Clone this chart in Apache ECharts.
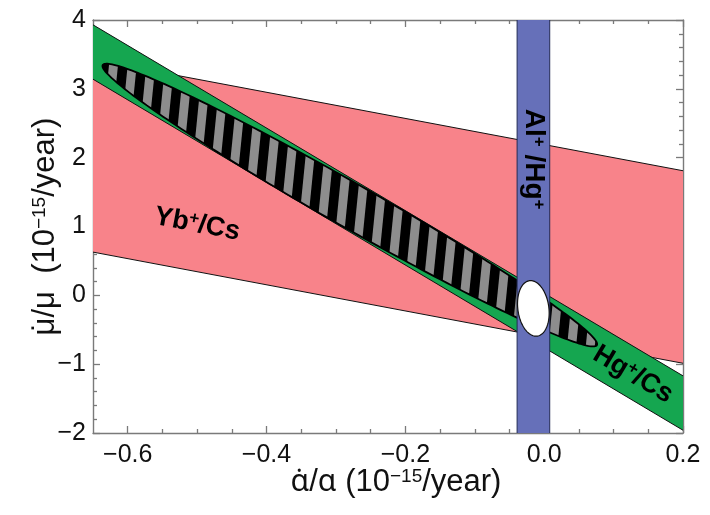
<!DOCTYPE html>
<html><head><meta charset="utf-8">
<script src="https://cdn.jsdelivr.net/npm/echarts@6/dist/echarts.min.js"></script>
<style>html,body{margin:0;padding:0;background:#fff}#c{width:710px;height:515px}</style>
</head><body><div id="c"></div>
<script>
// ---------------- data ----------------
const xRange = [-0.65, 0.2];
const yRange = [-2, 4];
const xTickValues = [-0.6, -0.4, -0.2, 0.0, 0.2];
const yTickValues = [-2, -1, 0, 1, 2, 3, 4];
// constraint bands: value of upper / lower edge at x = bandEndsX[0], bandEndsX[1]
const bandEndsX = [-0.65, 0.2];
const ybCsUpper = [3.425, 1.81];
const ybCsLower = [0.628, -0.987];
const hgCsUpper = [3.93, -1.17];
const hgCsLower = [3.14, -1.96];
// Al+/Hg+ vertical band
const alHgX = [-0.039, 0.008];
const alHgY = [-2, 4];
// combined (Yb+/Cs & Hg+/Cs) ellipse: centre and two conjugate half-axes (data units)
const combinedCenter = [-0.280, 1.311];
const combinedHalfA = [0.356, -2.035];
const combinedHalfB = [0.0157, 0.278];
// combined all-constraints ellipse (white)
const allCenter = [-0.0156, -0.190];
const allHalfA = [-0.0056, 0.4026];
const allHalfB = [0.0221, 0.0314];
// label anchors (data units)
const ybLabelAt = [-0.500, 1.03];
const hgLabelAt = [0.128, -1.15];
const alLabelAt = [-0.0155, 1.98];

// ---------------- styling ----------------
const FONT = '"Liberation Sans", Arial, Helvetica, sans-serif';
const MARKFONT = '"Noto Sans", "DejaVu Sans", sans-serif';
const frameColor = '#7a7a7a';
const pink = '#f8838a';
const green = '#15a650';
const blue = '#6670b9';
const stripeGray = '#8d8d8d';

function fmtNum(v, d) {
  const s = Math.abs(v).toFixed(d);
  return (v < -1e-9 ? '\u2212' : '') + s;
}

function clipHalf(poly, f) {
  const out = [];
  const n = poly.length;
  for (let i = 0; i < n; i++) {
    const a = poly[i], b = poly[(i + 1) % n];
    const fa = f(a), fb = f(b);
    if (fa >= 0) out.push(a);
    if ((fa >= 0) !== (fb >= 0)) {
      const t = fa / (fa - fb);
      out.push([a[0] + t * (b[0] - a[0]), a[1] + t * (b[1] - a[1])]);
    }
  }
  return out;
}

function ellipsePoints(api, n) {
  const c = [api.value(0), api.value(1)];
  const A = [api.value(2), api.value(3)];
  const B = [api.value(4), api.value(5)];
  const pts = [];
  for (let i = 0; i < n; i++) {
    const t = 2 * Math.PI * i / n;
    pts.push(api.coord([
      c[0] + Math.cos(t) * A[0] + Math.sin(t) * B[0],
      c[1] + Math.cos(t) * A[1] + Math.sin(t) * B[1]
    ]));
  }
  return pts;
}

function bandSeries(name, upper, lower, color, z) {
  return {
    type: 'custom', name: name, z: z, silent: true,
    data: [[bandEndsX[0], upper[0], lower[0], bandEndsX[1], upper[1], lower[1]]],
    encode: { x: [0, 3], y: [1, 2, 4, 5] },
    renderItem: function (params, api) {
      const ul = api.coord([api.value(0), api.value(1)]);
      const ll = api.coord([api.value(0), api.value(2)]);
      const ur = api.coord([api.value(3), api.value(4)]);
      const lr = api.coord([api.value(3), api.value(5)]);
      return {
        type: 'group',
        children: [
          { type: 'polygon', shape: { points: [ul, ur, lr, ll] }, style: { fill: color } },
          { type: 'polyline', shape: { points: [ul, ur] }, style: { stroke: '#111', lineWidth: 1, fill: null } },
          { type: 'polyline', shape: { points: [ll, lr] }, style: { stroke: '#111', lineWidth: 1, fill: null } }
        ]
      };
    }
  };
}

const labelRich = function (size) {
  return {
    m: { fontSize: size, fontWeight: 'bold', fontFamily: FONT, color: '#000' },
    s: { fontSize: Math.round(size * 0.62), fontWeight: 'bold', fontFamily: FONT, color: '#000', verticalAlign: 'top' }
  };
};

function bandLabelSeries(text, at, upper, lower, size, z) {
  return {
    type: 'custom', z: z, silent: true,
    data: [[at[0], at[1], bandEndsX[0], (upper[0] + lower[0]) / 2, bandEndsX[1], (upper[1] + lower[1]) / 2]],
    encode: { x: [0], y: [1] },
    renderItem: function (params, api) {
      const p = api.coord([api.value(0), api.value(1)]);
      const a = api.coord([api.value(2), api.value(3)]);
      const b = api.coord([api.value(4), api.value(5)]);
      const ang = -Math.atan2(b[1] - a[1], b[0] - a[0]);
      return {
        type: 'text', x: p[0], y: p[1], rotation: ang,
        style: { text: text, rich: labelRich(size), align: 'center', verticalAlign: 'middle', fill: '#000' }
      };
    }
  };
}

function axisCommon() {
  return {
    axisLine: { show: true, onZero: false, lineStyle: { color: frameColor, width: 1.4 } },
    axisTick: { show: true, inside: true, length: 7, lineStyle: { color: frameColor, width: 1.3 } },
    minorTick: { show: true, length: 4, lineStyle: { color: frameColor, width: 1.3 } },
    splitLine: { show: false },
    minorSplitLine: { show: false }
  };
}

const nameRich = {
  g: { fontSize: 30, fontFamily: MARKFONT, color: '#111' },
  n: { fontSize: 31, fontFamily: FONT, color: '#111' },
  // zero-width dot placed over the preceding letter
  d: { fontSize: 31, fontFamily: FONT, color: '#111', width: 0, padding: [0, 9, 0, -9] },
  s: { fontSize: 19, fontFamily: FONT, color: '#111', verticalAlign: 'top' }
};

function xAxisCfg(pos, main) {
  const c = axisCommon();
  c.type = 'value'; c.position = pos; c.min = xRange[0]; c.max = xRange[1];
  c.axisTick.customValues = xTickValues;
  c.minorTick.splitNumber = 4;
  c.axisLabel = { show: main, customValues: xTickValues, formatter: v => fmtNum(v, 1),
    fontSize: 25, color: '#111', fontFamily: FONT, margin: 10 };
  if (main) {
    c.name = '{g|\u03b1\u0307}{n|/}{g|\u03b1}{n| (10}{s|\u221215}{n|/year)}';
    c.nameLocation = 'middle';
    c.nameGap = 34;
    c.nameMoveOverlap = false;
    c.nameTextStyle = { rich: nameRich, padding: [0, 0, 0, 16] };
  }
  return c;
}

function yAxisCfg(pos, main) {
  const c = axisCommon();
  c.type = 'value'; c.position = pos; c.min = yRange[0]; c.max = yRange[1]; c.interval = 1;
  c.axisTick.customValues = yTickValues;
  c.minorTick.splitNumber = 5;
  c.axisLabel = { show: main, customValues: yTickValues, formatter: v => fmtNum(v, 0),
    fontSize: 25, color: '#111', fontFamily: FONT, margin: 7 };
  if (main) {
    c.name = '{n|\u03bc}{d|\u02d9}{n|/\u03bc  (10}{s|\u221215}{n|/year)}';
    c.nameLocation = 'middle';
    c.nameRotate = 90;
    c.nameGap = 32;
    c.nameMoveOverlap = false;
    c.nameTextStyle = { rich: nameRich };
  }
  return c;
}

const chart = echarts.init(document.getElementById('c'), null, { renderer: 'canvas' });
chart.setOption({
  animation: false,
  backgroundColor: '#fff',
  grid: { left: 93, right: 27, top: 20, bottom: 82, containLabel: false },
  xAxis: [xAxisCfg('bottom', true), xAxisCfg('top', false)],
  yAxis: [yAxisCfg('left', true), yAxisCfg('right', false)],
  series: [
    bandSeries('Yb+/Cs', ybCsUpper, ybCsLower, pink, 1),
    bandSeries('Hg+/Cs', hgCsUpper, hgCsLower, green, 2),
    {
      type: 'custom', name: 'combined', z: 3, silent: true,
      data: [[combinedCenter[0], combinedCenter[1], combinedHalfA[0], combinedHalfA[1], combinedHalfB[0], combinedHalfB[1]]],
      encode: { x: [0], y: [1] },
      renderItem: function (params, api) {
        const pts = ellipsePoints(api, 240);
        const lean = 0.1, period = 18.7, w = 9, phase = 7.8;
        const children = [{ type: 'polygon', shape: { points: pts }, style: { fill: '#000' } }];
        let umin = Infinity, umax = -Infinity;
        pts.forEach(p => { const u = p[0] + lean * p[1]; umin = Math.min(umin, u); umax = Math.max(umax, u); });
        for (let k = Math.floor((umin - phase) / period) - 1; phase + k * period - w / 2 < umax; k++) {
          const u0 = phase + k * period - w / 2, u1 = u0 + w;
          let poly = clipHalf(pts, p => p[0] + lean * p[1] - u0);
          poly = clipHalf(poly, p => u1 - (p[0] + lean * p[1]));
          if (poly.length > 2) children.push({ type: 'polygon', shape: { points: poly }, style: { fill: stripeGray } });
        }
        children.push({ type: 'polygon', shape: { points: pts }, style: { fill: null, stroke: '#000', lineWidth: 1.8 } });
        return { type: 'group', children: children };
      }
    },
    {
      type: 'custom', name: 'Al+/Hg+', z: 4, silent: true,
      data: [[alHgX[0], alHgY[0], alHgX[1], alHgY[1]]],
      encode: { x: [0, 2], y: [1, 3] },
      renderItem: function (params, api) {
        const a = api.coord([api.value(0), api.value(1)]);
        const b = api.coord([api.value(2), api.value(3)]);
        return {
          type: 'group', children: [
            { type: 'rect', shape: { x: a[0], y: b[1], width: b[0] - a[0], height: a[1] - b[1] }, style: { fill: blue } },
            { type: 'line', shape: { x1: a[0], y1: a[1], x2: a[0], y2: b[1] }, style: { stroke: '#222a55', lineWidth: 1 } },
            { type: 'line', shape: { x1: b[0], y1: a[1], x2: b[0], y2: b[1] }, style: { stroke: '#222a55', lineWidth: 1 } }
          ]
        };
      }
    },
    {
      type: 'custom', name: 'all', z: 5, silent: true,
      data: [[allCenter[0], allCenter[1], allHalfA[0], allHalfA[1], allHalfB[0], allHalfB[1]]],
      encode: { x: [0], y: [1] },
      renderItem: function (params, api) {
        const pts = ellipsePoints(api, 120);
        return { type: 'polygon', shape: { points: pts }, style: { fill: '#fff', stroke: '#111', lineWidth: 1.2 } };
      }
    },
    bandLabelSeries('{m|Yb}{s|+}{m|/Cs}', ybLabelAt, ybCsUpper, ybCsLower, 27, 6),
    bandLabelSeries('{m|Hg}{s|+}{m|/Cs}', hgLabelAt, hgCsUpper, hgCsLower, 27, 6),
    {
      type: 'custom', z: 6, silent: true,
      data: [[alLabelAt[0], alLabelAt[1]]],
      encode: { x: [0], y: [1] },
      renderItem: function (params, api) {
        const p = api.coord([api.value(0), api.value(1)]);
        return {
          type: 'text', x: p[0], y: p[1], rotation: -Math.PI / 2,
          style: { text: '{m|Al}{s|+}{m| /Hg}{s|+}', rich: labelRich(28), align: 'center', verticalAlign: 'middle', fill: '#000' }
        };
      }
    }
  ]
});
</script>
</body></html>
